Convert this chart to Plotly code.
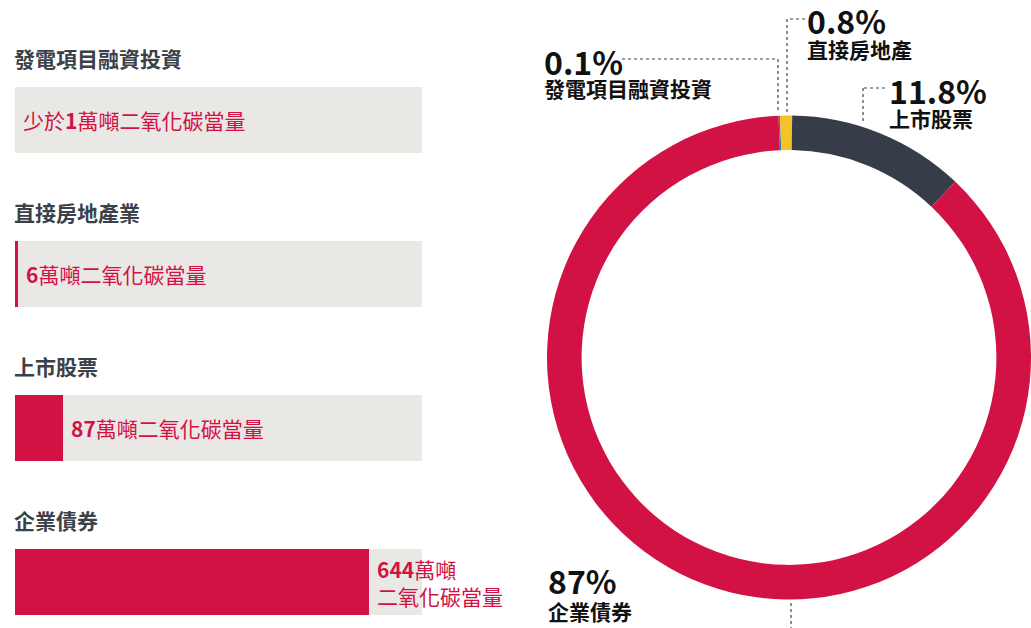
import plotly.graph_objects as go

# ---- data ----
categories = ["發電項目融資投資", "直接房地產業", "上市股票", "企業債券"]
emissions = [0.2, 6, 87, 644]          # 萬噸二氧化碳當量 (first one: under 1)
track_max = 740                        # full length of the grey track
value_text = ["少於<b>1</b>萬噸二氧化碳當量",
              "<b>6</b>萬噸二氧化碳當量",
              "<b>87</b>萬噸二氧化碳當量",
              "<b>644</b>萬噸<br>二氧化碳當量"]

share_labels = ["發電項目融資投資", "直接房地產", "上市股票", "企業債券"]
share_values = [0.1, 0.8, 11.8, 87]    # %

RED = "#D21244"
SLATE = "#363C48"
YELLOW = "#F4C327"
BLUE = "#2777B0"
TRACK = "#EAE8E4"
TITLE = "#3B4148"
FONT = "Noto Sans CJK TC"

W, H = 1031, 628


def px(x):
    return x / W


def py(y):
    return 1 - y / H


fig = go.Figure()

# grey tracks behind the bars
fig.add_trace(go.Bar(
    y=categories, x=[track_max] * len(categories), orientation="h",
    marker=dict(color=TRACK, line=dict(width=0)), width=0.4286,
    hoverinfo="skip", showlegend=False))
# emission bars (amounts below one unit are left as an empty track)
bar_colors = [RED if v >= 1 else TRACK for v in emissions]
fig.add_trace(go.Bar(
    y=categories, x=emissions, orientation="h",
    marker=dict(color=bar_colors, line=dict(width=0)), width=0.4286,
    hovertemplate="%{y}: %{x}<extra></extra>", showlegend=False))

# donut of portfolio shares
fig.add_trace(go.Pie(
    labels=share_labels, values=share_values, sort=False,
    direction="clockwise", rotation=-2.5, hole=0.857,
    marker=dict(colors=[BLUE, YELLOW, SLATE, RED], line=dict(width=0)),
    textinfo="none", hovertemplate="%{label}: %{value}%<extra></extra>",
    domain=dict(x=[px(547), 1.0], y=[py(599.5), py(115.5)]),
    showlegend=False))

annotations = []
for i, (cat, v, t) in enumerate(zip(categories, emissions, value_text)):
    # row title above each track
    annotations.append(dict(
        x=px(15), xref="paper", y=i - 0.4, yref="y", text=f"<b>{cat}</b>",
        showarrow=False, xanchor="left", yanchor="middle", xshift=-3,
        font=dict(family=FONT, size=21, color=TITLE)))
    # value label right of the bar
    annotations.append(dict(
        x=v, xref="x", y=i, yref="y", text=t, showarrow=False,
        xanchor="left", yanchor="middle", xshift=6, align="left",
        font=dict(family=FONT, size=21, color=RED)))

# donut callouts: (percent x, percent y centre, name y centre)
callouts = [(545, 61, 88), (808, 20, 49), (890, 90, 118), (549, 580, 611)]
for (x0, y_pct, y_name), lab, val in zip(callouts, share_labels, share_values):
    annotations.append(dict(
        x=px(x0), y=py(y_pct), xref="paper", yref="paper",
        text=f"<b>{val:g}%</b>", showarrow=False, xanchor="left",
        yanchor="middle", xshift=-3,
        font=dict(family=FONT, size=32, color="#111111")))
    annotations.append(dict(
        x=px(x0), y=py(y_name), xref="paper", yref="paper",
        text=f"<b>{lab}</b>", showarrow=False, xanchor="left",
        yanchor="middle", xshift=-3,
        font=dict(family=FONT, size=21, color="#111111")))

# dotted leader lines
leaders = [
    [(622, 59), (778, 59), (778, 112)],
    [(805, 19), (787, 19), (787, 112)],
    [(885, 88), (863, 88), (863, 122)],
    [(791, 603), (791, 628)],
]
shapes = []
for pts in leaders:
    for (xa, ya), (xb, yb) in zip(pts[:-1], pts[1:]):
        shapes.append(dict(
            type="line", xref="paper", yref="paper",
            x0=px(xa), y0=py(ya), x1=px(xb), y1=py(yb),
            line=dict(color="#444444", width=1.2, dash="dot")))

fig.update_layout(
    width=W, height=H, margin=dict(l=0, r=0, t=0, b=0),
    paper_bgcolor="white", plot_bgcolor="white",
    barmode="overlay", bargap=0,
    xaxis=dict(domain=[px(15), px(422)], range=[0, track_max],
               visible=False, fixedrange=True),
    yaxis=dict(domain=[0, 1], type="category", categoryarray=categories,
               range=[(H - 120) / 154, -120 / 154], visible=False,
               fixedrange=True),
    annotations=annotations, shapes=shapes,
    font=dict(family=FONT),
)

fig.write_html("out.html")
